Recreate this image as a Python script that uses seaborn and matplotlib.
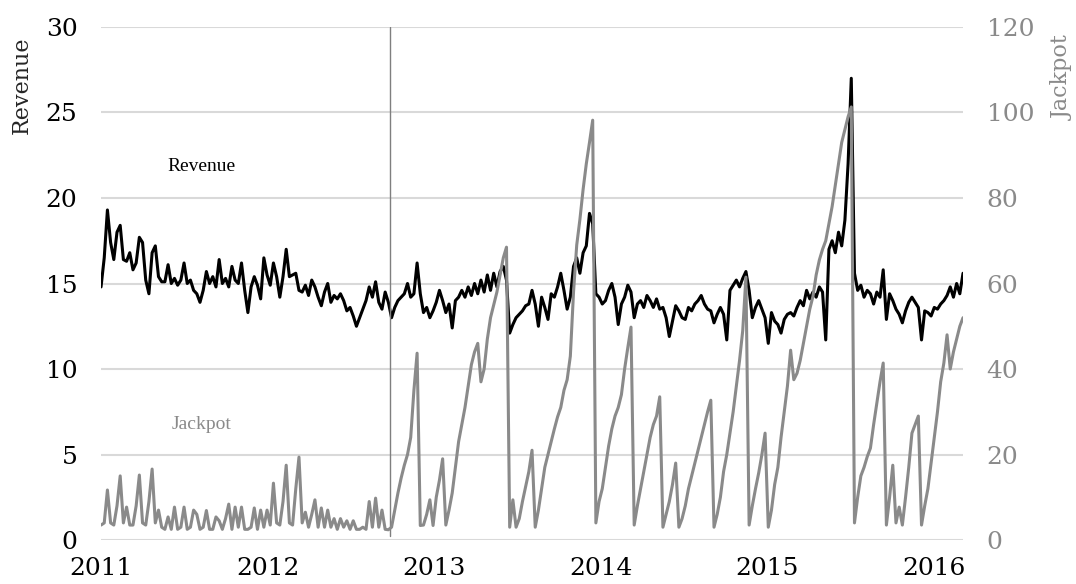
import matplotlib
matplotlib.use("Agg")
import matplotlib.pyplot as plt
import matplotlib.dates as mdates
import pandas as pd
import seaborn as sns

### weekly draws, Jan 2011 - Mar 2016

revenue = [
    14.8, 16.5, 19.3, 17.4, 16.4, 18, 18.4, 16.4, 16.3, 16.8,
    15.8, 16.2, 17.7, 17.4, 15.2, 14.4, 16.8, 17.2, 15.4, 15.1,
    15.1, 16.1, 15, 15.3, 14.9, 15.2, 16.2, 15, 15.2, 14.6,
    14.4, 13.9, 14.6, 15.7, 15, 15.4, 14.8, 16.4, 15, 15.3,
    14.8, 16, 15.2, 15, 16.2, 14.6, 13.3, 14.8, 15.4, 14.9,
    14.1, 16.5, 15.5, 14.9, 16.2, 15.4, 14.2, 15.4, 17, 15.4,
    15.5, 15.6, 14.6, 14.5, 14.9, 14.3, 15.2, 14.8, 14.2, 13.7,
    14.5, 15, 13.9, 14.3, 14.1, 14.4, 14, 13.4, 13.6, 13.1,
    12.5, 13, 13.5, 14, 14.8, 14.2, 15.1, 13.9, 13.5, 14.5,
    13.9, 13, 13.6, 14, 14.2, 14.4, 15, 14.2, 14.4, 16.2,
    14.4, 13.3, 13.6, 13, 13.4, 13.9, 14.6, 14, 13.3, 13.8,
    12.4, 14, 14.2, 14.6, 14.2, 14.8, 14.3, 15, 14.4, 15.2,
    14.5, 15.5, 14.6, 15.6, 14.8, 15.7, 16, 15.2, 12.1, 12.6,
    13, 13.2, 13.4, 13.7, 13.8, 14.6, 13.8, 12.5, 14.2, 13.6,
    12.9, 14.4, 14.2, 14.8, 15.6, 14.6, 13.5, 14.2, 16, 16.5,
    15.6, 16.8, 17.2, 19.1, 18.5, 14.4, 14.2, 13.8, 14, 14.6,
    15, 14.2, 12.6, 13.8, 14.2, 14.9, 14.5, 13, 13.8, 14,
    13.6, 14.3, 14, 13.6, 14.1, 13.5, 13.6, 13, 11.9, 12.8,
    13.7, 13.4, 13, 12.9, 13.6, 13.4, 13.8, 14, 14.3, 13.8,
    13.5, 13.4, 12.7, 13.2, 13.6, 13.2, 11.7, 14.6, 14.9, 15.2,
    14.8, 15.3, 15.7, 14.6, 13, 13.6, 14, 13.5, 13, 11.5,
    13.3, 12.8, 12.6, 12.1, 12.9, 13.2, 13.3, 13.1, 13.6, 14,
    13.7, 14.6, 14.1, 14.5, 14.2, 14.8, 14.5, 11.7, 17, 17.5,
    16.8, 18, 17.2, 18.7, 22, 27, 15.6, 14.6, 14.9, 14.2,
    14.6, 14.4, 13.8, 14.5, 14.2, 15.8, 12.9, 14.4, 14, 13.5,
    13.2, 12.7, 13.4, 13.9, 14.2, 13.9, 13.6, 11.7, 13.4, 13.3,
    13.1, 13.6, 13.5, 13.8, 14, 14.3, 14.8, 14.2, 15, 14.4,
    15.6,
]

jackpot = [
    3.5, 4, 11.7, 4, 3.5, 8, 15, 4, 7.7, 3.5,
    3.5, 8, 15.2, 4, 3.5, 9, 16.6, 4, 7, 3,
    2.5, 5.4, 2.5, 7.7, 2.5, 3, 7.7, 2.5, 3, 7,
    6, 2.5, 3, 6.9, 2.5, 2.5, 5.4, 4.5, 2.5, 5,
    8.4, 2.5, 7.7, 3, 7.7, 2.5, 2.5, 3, 7.5, 2.5,
    7, 3, 7, 3.5, 13.3, 4, 3.5, 9, 17.5, 4,
    3.5, 12, 19.4, 4, 6.5, 3, 6, 9.4, 3, 7.5,
    3, 7, 3, 5, 2.5, 5, 3, 4.5, 2.5, 4.5,
    2.5, 2.5, 3, 2.5, 9, 3, 9.8, 3, 7, 2.5,
    2.4, 3, 7, 11, 14.5, 17.5, 20, 24, 35, 43.7,
    3.4, 3.5, 6, 9.4, 3.4, 10, 14, 19, 3.5, 7,
    11, 17, 23, 27, 31, 36, 41, 44, 46, 37,
    40, 47, 52, 55, 58, 62, 66, 68.5, 3, 9.4,
    3, 5, 9, 12.5, 16, 21, 3, 7, 12, 17,
    20, 23, 26, 28.8, 31, 35, 37.5, 43, 58, 69,
    75, 82, 88, 93, 98.2, 4, 9, 12, 17, 22,
    26, 29, 31, 34, 40, 45, 49.8, 3.5, 8, 12,
    16, 20, 24, 27, 29, 33.5, 3, 6, 9, 13,
    18, 3, 5, 8, 12, 15, 18, 21, 24, 27,
    30, 32.7, 3, 6, 10, 16, 20, 25, 30, 36,
    42, 49, 61.5, 3.5, 8, 12, 15.7, 20, 25, 3,
    7, 13, 17, 24, 30, 36, 44.4, 37.5, 39, 42,
    46, 50, 54, 57, 62, 65.5, 68, 70, 74, 78,
    83, 88, 93, 96, 99, 101.3, 4, 10, 15, 17,
    19.5, 21.5, 27, 32, 37, 41.4, 3.5, 10, 17.5, 4,
    7.7, 3.5, 10, 17, 25, 27, 29, 3.5, 8, 12,
    18, 24, 30, 37, 41.4, 48, 40, 44, 47, 50,
    52,
]

dates = pd.date_range("2011-01-01", periods=len(revenue), freq="7D")
event_date = pd.Timestamp("2012-09-25")
years = ["2011", "2012", "2013", "2014", "2015", "2016"]

df = pd.DataFrame({"Date": dates, "Revenue": revenue, "Jackpot": jackpot})

sns.set_style("white")
plt.rcParams["font.family"] = ["DejaVu Serif"]

gray = "#8a8a8a"

fig, ax = plt.subplots(figsize=(10.76, 5.84), dpi=100)
fig.subplots_adjust(left=0.0939, right=0.895, bottom=0.0753, top=0.9538)
ax2 = ax.twinx()

sns.lineplot(data=df, x="Date", y="Revenue", ax=ax, color="black", lw=2.2)
sns.lineplot(data=df, x="Date", y="Jackpot", ax=ax2, color=gray, lw=2.2)

ax.axvline(event_date, ymin=0.008, ymax=1, color="#7f7f7f", lw=1)

ax.set_ylim(0, 30)
ax.set_yticks(range(0, 31, 5))
ax2.set_ylim(0, 120)
ax2.set_yticks(range(0, 121, 20))
ax.set_xlim(dates[0], dates[-1])
ax.set_xticks([pd.Timestamp(y + "-01-01") for y in years])
ax.xaxis.set_major_formatter(mdates.DateFormatter("%Y"))

ax.grid(axis="y", color="#d9d9d9", lw=1.5)
ax.grid(axis="x", visible=False)
ax2.grid(False)
ax.set_axisbelow(True)
for a in (ax, ax2):
    for s in a.spines.values():
        s.set_visible(False)

ax.tick_params(axis="y", length=0, pad=17, labelsize=18, colors="black")
ax.tick_params(axis="x", length=0, pad=12, labelsize=18, colors="black")
ax2.tick_params(axis="y", length=0, pad=17, labelsize=18, colors=gray)

ax.set_xlabel("")
ax.set_ylabel("Revenue", fontsize=16, y=0.982, horizontalalignment="right", labelpad=9)
ax2.set_ylabel("Jackpot", fontsize=16, y=0.984, horizontalalignment="right",
               labelpad=13, color=gray)

ax.text(0.117, 0.729, "Revenue", transform=ax.transAxes, ha="center", va="center",
        fontsize=14, family="Liberation Serif", color="black")
ax.text(0.117, 0.226, "Jackpot", transform=ax.transAxes, ha="center", va="center",
        fontsize=14, family="Liberation Serif", color=gray)

plt.savefig("out.png", dpi=100)
